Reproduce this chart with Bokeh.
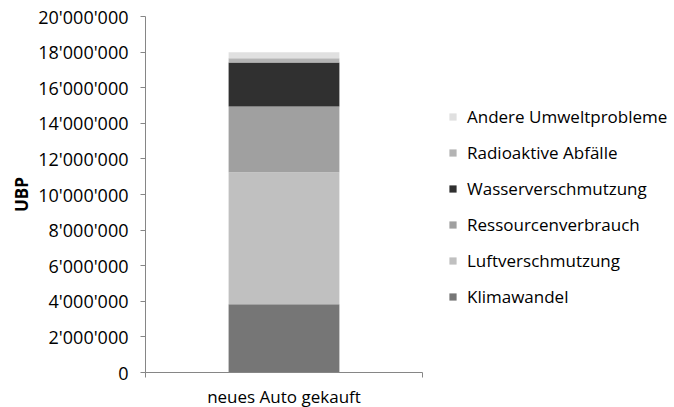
from bokeh.plotting import figure
from bokeh.models import Range1d, FixedTicker, CustomJSTickFormatter, Legend, LegendItem, ColumnDataSource
from bokeh.embed import file_html
from bokeh.resources import INLINE

categories = ["neues Auto gekauft"]
series = ["Klimawandel", "Luftverschmutzung", "Ressourcenverbrauch",
          "Wasserverschmutzung", "Radioaktive Abfälle", "Andere Umweltprobleme"]
klimawandel = [3_840_000]
luftverschmutzung = [7_410_000]
ressourcenverbrauch = [3_690_000]
wasserverschmutzung = [2_480_000]
radioaktive_abfaelle = [240_000]
andere = [330_000]
colors = ["#767676", "#c0c0c0", "#a0a0a0", "#303030", "#b4b4b4", "#e0e0e0"]
y_ticks = list(range(0, 20_000_001, 2_000_000))

FONT = "Open Sans"

data = {"x": [i + 0.5 for i in range(len(categories))]}
for name, vals in zip(series, [klimawandel, luftverschmutzung, ressourcenverbrauch,
                               wasserverschmutzung, radioaktive_abfaelle, andere]):
    data[name] = vals
src = ColumnDataSource(data)

p = figure(frame_width=277, frame_height=356, output_backend="svg", toolbar_location=None,
           x_range=Range1d(0, len(categories)), y_range=Range1d(0, 20_000_000),
           min_border_left=145, min_border_top=16, min_border_bottom=0, min_border_right=0)
p.outline_line_color = None
p.xgrid.visible = False
p.ygrid.visible = False

renderers = p.vbar_stack(series, x="x", width=0.4, source=src, color=colors, line_color=None)

# y axis
ya = p.yaxis[0]
ya.ticker = FixedTicker(ticks=y_ticks)
ya.formatter = CustomJSTickFormatter(code="""
const s = Math.round(tick).toString();
return s.replace(/\\B(?=(\\d{3})+(?!\\d))/g, "'");
""")
ya.axis_line_color = "#868686"
ya.major_tick_line_color = "#868686"
ya.major_tick_in = 0
ya.major_tick_out = 5
ya.minor_tick_line_color = None
ya.major_label_text_font = FONT
ya.major_label_text_font_size = "18px"
ya.major_label_text_color = "#000000"
ya.major_label_standoff = 12
ya.axis_label = "UBP"
ya.axis_label_text_font = FONT
ya.axis_label_text_font_style = "bold"
ya.axis_label_text_font_size = "17px"
ya.axis_label_text_color = "#000000"
ya.axis_label_standoff = 2

# x axis
xa = p.xaxis[0]
xa.ticker = FixedTicker(ticks=data["x"], minor_ticks=list(range(len(categories) + 1)))
xa.major_label_overrides = {data["x"][i]: c for i, c in enumerate(categories)}
xa.axis_line_color = "#868686"
xa.major_tick_line_color = None
xa.minor_tick_line_color = "#868686"
xa.minor_tick_in = 0
xa.minor_tick_out = 5
xa.major_label_text_font = FONT
xa.major_label_text_font_size = "17px"
xa.major_label_text_color = "#000000"
xa.major_label_standoff = 6

items = [LegendItem(label=s, renderers=[r]) for s, r in zip(series, renderers)][::-1]
legend = Legend(items=items, location=(26, 64), orientation="vertical",
                glyph_width=9, glyph_height=9, label_standoff=10, spacing=13,
                label_height=20, label_text_font=FONT, label_text_font_size="17px",
                label_text_color="#000000", border_line_color=None,
                background_fill_alpha=0, padding=0, margin=0)
p.add_layout(legend, "right")

open("out.html", "w").write(file_html(p, INLINE))
